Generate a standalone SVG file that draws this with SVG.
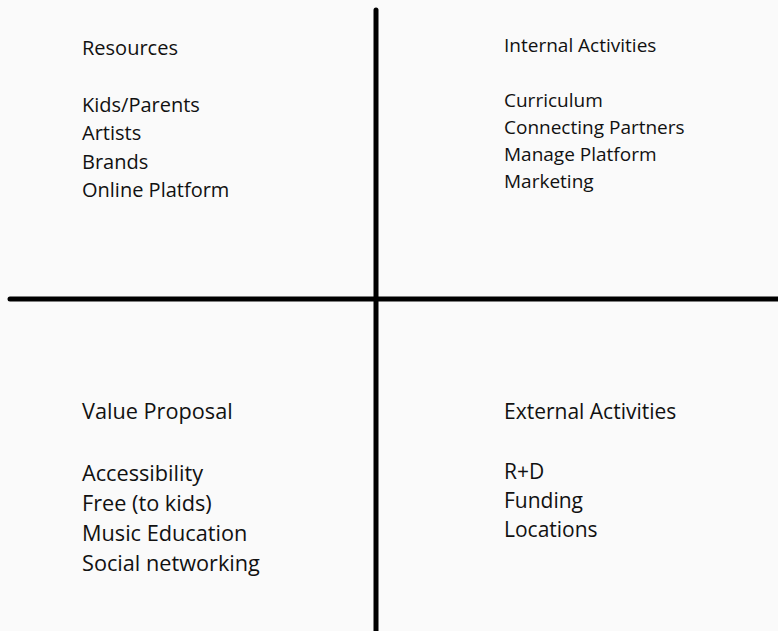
<svg xmlns="http://www.w3.org/2000/svg" width="778" height="631" viewBox="0 0 778 631">
<style>
text{font-family:"Open Sans","Noto Sans",sans-serif;fill:#111;}
.ul{font-size:20px;}
.ur{font-size:19px;}
.ll{font-size:21.7px;}
.lr{font-size:21px;}
.ax{stroke:#000;stroke-width:5;stroke-linecap:round;fill:none;}
</style>
<rect width="778" height="631" fill="#fafafa"/>
<g id="connectors">
<line class="ax" x1="376" y1="10" x2="376" y2="640"/>
<line class="ax" x1="10" y1="299" x2="790" y2="299"/>
</g>
<g id="resources">
<text class="ul" x="82" y="55">Resources</text>
<text class="ul" x="82" y="112">Kids/Parents</text>
<text class="ul" x="82" y="140">Artists</text>
<text class="ul" x="82" y="169">Brands</text>
<text class="ul" x="82" y="197">Online Platform</text>
</g>
<g id="internal">
<text class="ur" x="504" y="52">Internal Activities</text>
<text class="ur" x="504" y="107">Curriculum</text>
<text class="ur" x="504" y="134">Connecting Partners</text>
<text class="ur" x="504" y="161">Manage Platform</text>
<text class="ur" x="504" y="188">Marketing</text>
</g>
<g id="value">
<text class="ll" x="82" y="419">Value Proposal</text>
<text class="ll" x="82" y="481">Accessibility</text>
<text class="ll" x="82" y="511">Free (to kids)</text>
<text class="ll" x="82" y="541">Music Education</text>
<text class="ll" x="82" y="571">Social networking</text>
</g>
<g id="external">
<text class="lr" x="504" y="419">External Activities</text>
<text class="lr" x="504" y="479">R+D</text>
<text class="lr" x="504" y="508">Funding</text>
<text class="lr" x="504" y="537">Locations</text>
</g>
</svg>
